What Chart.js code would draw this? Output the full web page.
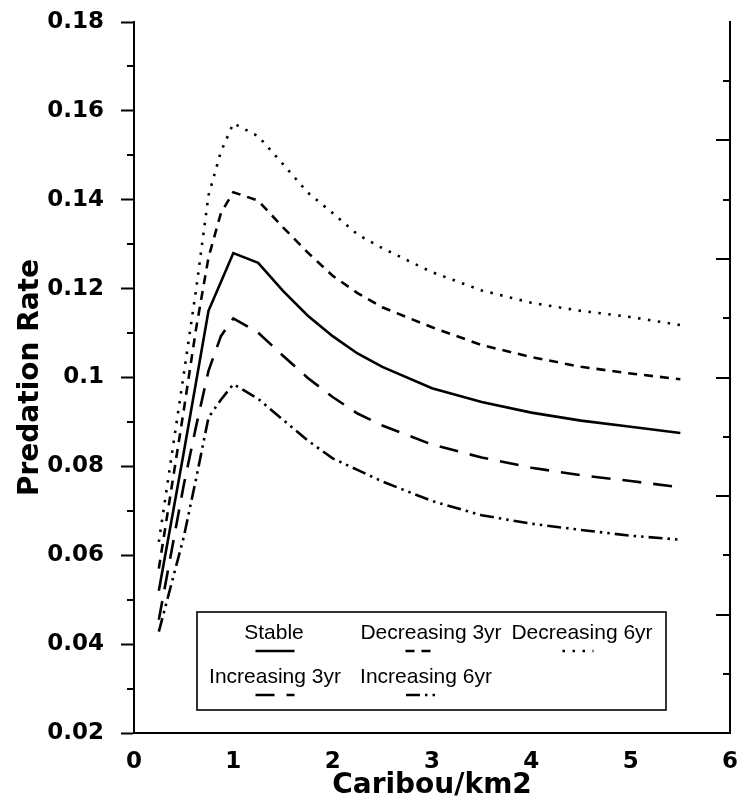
<!DOCTYPE html>
<html><head><meta charset="utf-8">
<script src="https://cdn.jsdelivr.net/npm/chart.js@4"></script>
<style>html,body{margin:0;padding:0;background:#fff}canvas{display:block}</style>
</head><body>
<canvas id="c" width="738" height="810"></canvas>
<script>
// ---- data ----
const xValues       = [0.25, 0.5, 0.625, 0.75, 0.875, 1.0, 1.25, 1.5, 1.75, 2.0, 2.25, 2.5, 3.0, 3.5, 4.0, 4.5, 5.0, 5.5];
const stable        = [0.052, 0.083, 0.099, 0.1150, 0.1215, 0.1280, 0.1258, 0.1195, 0.1139, 0.1093, 0.1054, 0.1024, 0.0976, 0.0945, 0.0921, 0.0903, 0.0889, 0.0875];
const decreasing3yr = [0.057, 0.0925, 0.111, 0.1270, 0.1370, 0.1417, 0.1398, 0.1338, 0.1281, 0.1229, 0.1190, 0.1158, 0.1113, 0.1073, 0.1046, 0.1024, 0.1009, 0.0996];
const decreasing6yr = [0.063, 0.1006, 0.1198, 0.1410, 0.1508, 0.1572, 0.1543, 0.1480, 0.1416, 0.1370, 0.1322, 0.1291, 0.1237, 0.1196, 0.1168, 0.1150, 0.1136, 0.1118];
const increasing3yr = [0.0455, 0.0757, 0.0890, 0.1015, 0.1093, 0.1133, 0.1101, 0.1049, 0.0999, 0.0956, 0.0919, 0.0892, 0.0849, 0.0820, 0.0797, 0.0780, 0.0767, 0.0753];
const increasing6yr = [0.0428, 0.0640, 0.0772, 0.0910, 0.0950, 0.0985, 0.0952, 0.0905, 0.0858, 0.0818, 0.0792, 0.0766, 0.0722, 0.0690, 0.0671, 0.0657, 0.0644, 0.0635];
const seriesLabels  = ['Stable', 'Decreasing 3yr', 'Decreasing 6yr', 'Increasing 3yr', 'Increasing 6yr'];
const xTickValues   = [0, 1, 2, 3, 4, 5, 6];
const yTickValues   = [0.02, 0.04, 0.06, 0.08, 0.10, 0.12, 0.14, 0.16, 0.18];
const rightTickSteps = [0, 1, 2, 3, 4, 5, 6, 7, 8, 9, 10, 11, 12];
const xTitle = 'Caribou/km2';
const yTitle = 'Predation Rate';

// ---- styles ----
const seriesData = [stable, decreasing3yr, decreasing6yr, increasing3yr, increasing6yr];
const dashes = [[], [9, 7], [2.5, 7.5], [19, 12], [14, 5, 2.5, 5, 2.5, 5]];
const titleFont = {family: 'DejaVu Sans', weight: 'bold', size: 28};
const tickFont = {family: 'DejaVu Sans', weight: 'bold', size: 23};

const legendLayout = {
  box: {left: 197, top: 612, right: 666, bottom: 710},
  font: '21px "Liberation Sans", Arial, sans-serif',
  items: [
    {tx: 274, ty: 633, sx: 275, sy: 651, w: 39},
    {tx: 431, ty: 633, sx: 419, sy: 651, w: 27},
    {tx: 582, ty: 633, sx: 578, sy: 651, w: 31},
    {tx: 275, ty: 677, sx: 275, sy: 695, w: 39},
    {tx: 426, ty: 677, sx: 423, sy: 695, w: 34}
  ]
};

const decor = {
  id: 'decor',
  afterDraw(chart) {
    const ctx = chart.ctx, ca = chart.chartArea;
    const y = chart.scales.y, y2 = chart.scales.y2;
    ctx.save();
    ctx.strokeStyle = '#000';
    ctx.lineWidth = 2;
    // minor ticks on left axis
    for (let i = 0; i < yTickValues.length - 1; i++) {
      const v = (yTickValues[i] + yTickValues[i + 1]) / 2;
      const py = Math.round(y.getPixelForValue(v));
      ctx.beginPath(); ctx.moveTo(ca.left - 7, py); ctx.lineTo(ca.left, py); ctx.stroke();
    }
    // inward ticks on right axis
    rightTickSteps.forEach(k => {
      if (k === 0 || k === 12) return;
      const py = Math.round(y2.getPixelForValue(k));
      const len = (k % 2 === 0) ? 14 : 7;
      ctx.beginPath(); ctx.moveTo(ca.right - len, py); ctx.lineTo(ca.right, py); ctx.stroke();
    });
    // legend
    const b = legendLayout.box;
    ctx.lineWidth = 1.6;
    ctx.strokeRect(b.left, b.top, b.right - b.left, b.bottom - b.top);
    ctx.fillStyle = '#000';
    ctx.font = legendLayout.font;
    ctx.textAlign = 'center';
    ctx.textBaseline = 'middle';
    chart.data.datasets.forEach((ds, i) => {
      const it = legendLayout.items[i];
      ctx.fillText(ds.label, it.tx, it.ty);
      ctx.save();
      ctx.lineWidth = 2.5;
      ctx.setLineDash(ds.borderDash || []);
      ctx.beginPath();
      ctx.moveTo(it.sx - it.w / 2, it.sy);
      ctx.lineTo(it.sx + it.w / 2, it.sy);
      ctx.stroke();
      ctx.restore();
    });
    ctx.restore();
  }
};

new Chart(document.getElementById('c'), {
  type: 'line',
  data: {
    datasets: seriesData.map((arr, i) => ({
      label: seriesLabels[i],
      data: xValues.map((x, j) => ({x: x, y: arr[j]})),
      borderColor: '#000',
      borderWidth: 2.6,
      borderDash: dashes[i],
      pointRadius: 0,
      tension: 0,
      fill: false
    }))
  },
  options: {
    responsive: false,
    animation: false,
    devicePixelRatio: 1,
    layout: {padding: {left: 0, right: 8, top: 22, bottom: 0}},
    plugins: {legend: {display: false}, tooltip: {enabled: false}},
    scales: {
      x: {
        type: 'linear', min: 0, max: 6,
        afterBuildTicks: s => { s.ticks = xTickValues.map(v => ({value: v})); },
        ticks: {color: '#000', font: tickFont, padding: 7, maxRotation: 0, autoSkip: false},
        grid: {display: false},
        border: {display: true, color: '#000', width: 2},
        title: {display: true, text: xTitle, color: '#000', font: titleFont, padding: {top: 0, bottom: 7}},
        afterFit: s => { s.height = 77; s.paddingLeft = 0; s.paddingRight = 0; }
      },
      y: {
        type: 'linear', min: 0.02, max: 0.18,
        afterBuildTicks: s => { s.ticks = yTickValues.map(v => ({value: v})); },
        ticks: {color: '#000', font: tickFont, padding: 17, callback: v => String(parseFloat(Number(v).toFixed(2)))},
        grid: {display: true, drawOnChartArea: false, drawTicks: true, tickLength: 13, tickWidth: 2, tickColor: '#000', color: '#000'},
        border: {display: true, color: '#000', width: 2},
        title: {display: true, text: yTitle, color: '#000', font: titleFont, padding: {top: 14, bottom: 0}},
        afterFit: s => { s.width = 134; s.paddingTop = 0; s.paddingBottom = 0; }
      },
      y2: {
        type: 'linear', position: 'right', min: 0, max: 12,
        afterBuildTicks: s => { s.ticks = rightTickSteps.map(v => ({value: v})); },
        ticks: {display: false},
        grid: {display: false},
        border: {display: true, color: '#000', width: 2},
        afterFit: s => { s.width = 0; s.paddingTop = 0; s.paddingBottom = 0; }
      }
    }
  },
  plugins: [decor]
});
</script>
</body></html>
